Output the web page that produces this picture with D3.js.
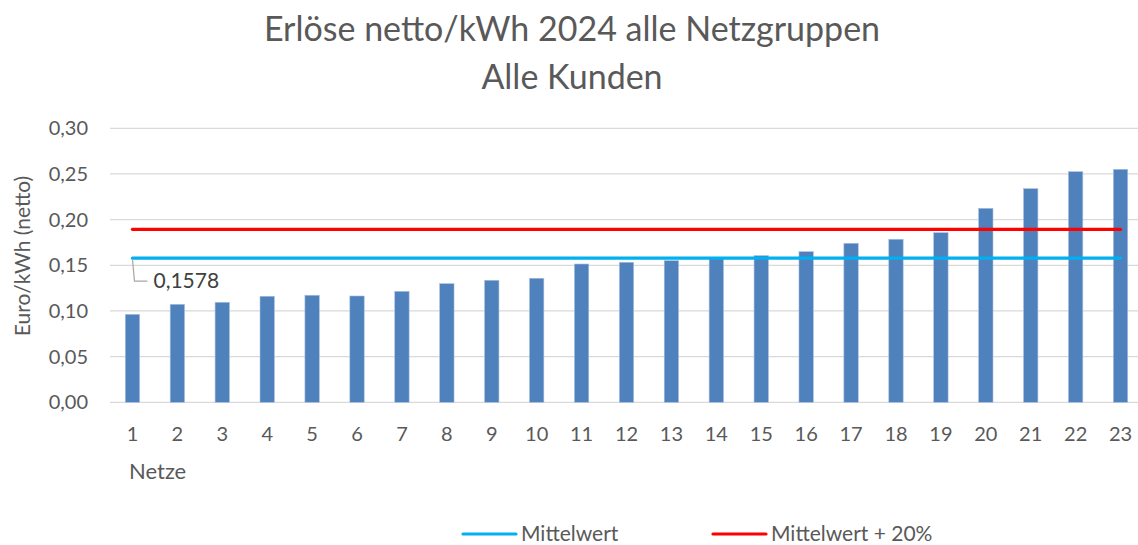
<!DOCTYPE html>
<html><head><meta charset="utf-8">
<script src="https://cdn.jsdelivr.net/npm/d3@7"></script>
<style>body{margin:0;background:#fff;} svg{display:block;font-family:Lato, "Open Sans", sans-serif;}</style>
</head><body>
<svg id="c" width="1138" height="545"></svg>
<script>
const categories = ["1","2","3","4","5","6","7","8","9","10","11","12","13","14","15","16","17","18","19","20","21","22","23"];
const values = [0.0963,0.1073,0.1095,0.1161,0.1172,0.1164,0.1215,0.1299,0.1336,0.1358,0.1514,0.1533,0.1551,0.1572,0.1606,0.1649,0.1741,0.1785,0.1857,0.2124,0.2339,0.2525,0.2551];
const mean = 0.1578;
const meanPlus20 = 0.18936;
const yTicks = [0,0.05,0.10,0.15,0.20,0.25,0.30];
const title1 = "Erlöse netto/kWh 2024 alle Netzgruppen";
const title2 = "Alle Kunden";
const seriesNames = ["Mittelwert","Mittelwert + 20%"];

(function(){
const svg = d3.select("#c");
const pLeft = 110, pRight = 1143, pTop = 128.3, pBottom = 402.3;
const x = d3.scaleBand().domain(categories).range([pLeft, pRight]).paddingInner(0.68).paddingOuter(0.34);
const y = d3.scaleLinear().domain([0,0.30]).range([pBottom, pTop]);
const fmt = d => d3.format(".2f")(d).replace(".", ",");
const grey = "#595959";

svg.append("g").selectAll("line").data(yTicks).join("line")
  .attr("x1", pLeft).attr("x2", 1138).attr("y1", d=>y(d)).attr("y2", d=>y(d))
  .attr("stroke", "#d9d9d9").attr("stroke-width", 1.3);

const yAxis = d3.axisLeft(y).tickValues(yTicks).tickFormat(fmt).tickSize(0).tickPadding(0);
const ya = svg.append("g").attr("transform", `translate(${pLeft-22},0)`).call(yAxis);
ya.select(".domain").remove();
ya.selectAll("text").attr("font-size", 20).attr("fill", grey).attr("font-family", "Lato");

svg.append("g").selectAll("rect").data(values).join("rect")
  .attr("x", (d,i)=>x(categories[i])).attr("width", x.bandwidth())
  .attr("y", d=>y(d)).attr("height", d=>y(0)-y(d))
  .attr("fill", "#4f81bd").attr("stroke", "#a9c0de").attr("stroke-width", 0.6);

const xAxis = d3.axisBottom(x).tickSize(0).tickPadding(0);
const xa = svg.append("g").attr("transform", `translate(0,${pBottom+24.5})`).call(xAxis);
xa.select(".domain").remove();
xa.selectAll("text").attr("font-size", 20).attr("fill", grey).attr("font-family", "Lato");

const cx = c => x(c) + x.bandwidth()/2;
[[mean, "#00b0f0"], [meanPlus20, "#ff0000"]].forEach(([v, col]) => {
  svg.append("path").datum(categories)
    .attr("d", d3.line().x(d=>cx(d)).y(()=>y(v)))
    .attr("fill","none").attr("stroke", col).attr("stroke-width", 3.2).attr("stroke-linecap","round");
});

const lx = cx(categories[0]);
svg.append("path").attr("d", `M${lx},${y(mean)+1} L${lx+2},${y(mean)+23} L${lx+15},${y(mean)+23}`)
  .attr("fill","none").attr("stroke","#a6a6a6").attr("stroke-width",1.2);
svg.append("text").attr("x", lx+21).attr("y", y(mean)+30)
  .attr("font-size", 21).attr("fill", "#404040").text(d3.format(".4f")(mean).replace(".", ","));

svg.append("text").attr("x", 572).attr("y", 41).attr("text-anchor","middle")
  .attr("font-size", 34).attr("fill", grey).text(title1);
svg.append("text").attr("x", 572).attr("y", 89).attr("text-anchor","middle")
  .attr("font-size", 34).attr("fill", grey).text(title2);

svg.append("text").attr("transform", `translate(30,256) rotate(-90)`).attr("text-anchor","middle")
  .attr("font-size", 21).attr("fill", grey).text("Euro/kWh (netto)");
svg.append("text").attr("x", 129).attr("y", 479).attr("font-size", 22).attr("fill", grey).text("Netze");

const leg = [[463, "#00b0f0", seriesNames[0]], [713, "#ff0000", seriesNames[1]]];
leg.forEach(([lx0, col, name]) => {
  svg.append("line").attr("x1", lx0).attr("x2", lx0+53).attr("y1", 534).attr("y2", 534)
    .attr("stroke", col).attr("stroke-width", 3.2).attr("stroke-linecap","round");
  svg.append("text").attr("x", lx0+58).attr("y", 534).attr("dy", "0.33em")
    .attr("font-size", 21).attr("fill", grey).text(name);
});
})();
</script>
</body></html>
